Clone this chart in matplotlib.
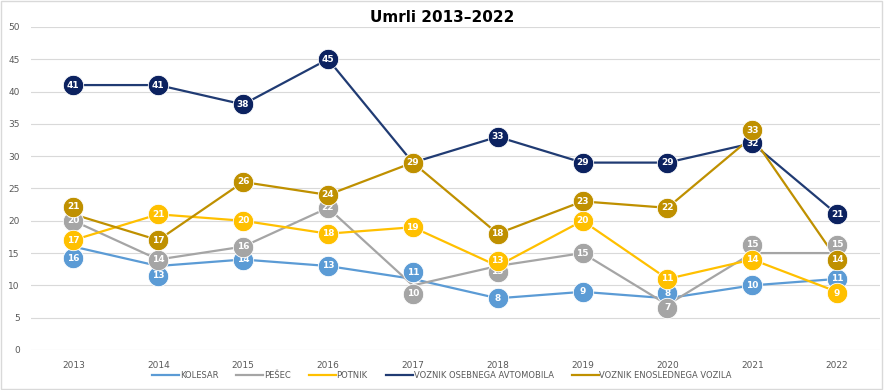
import matplotlib.pyplot as plt
from matplotlib.patches import Rectangle

years = ["2013", "2014", "2015", "2016", "2017", "2018", "2019", "2020", "2021", "2022"]

kolesar = [16, 13, 14, 13, 11, 8, 9, 8, 10, 11]
pesec = [20, 14, 16, 22, 10, 13, 15, 7, 15, 15]
potnik = [17, 21, 20, 18, 19, 13, 20, 11, 14, 9]
voznik_avto = [41, 41, 38, 45, 29, 33, 29, 29, 32, 21]
voznik_enosled = [21, 17, 26, 24, 29, 18, 23, 22, 33, 14]

series = [
    ("KOLESAR", kolesar, "#5B9BD5", "#5B9BD5"),
    ("PEŠEC", pesec, "#A5A5A5", "#A5A5A5"),
    ("POTNIK", potnik, "#FFC000", "#FFC000"),
    ("VOZNIK OSEBNEGA AVTOMOBILA", voznik_avto, "#203B73", "#0C2260"),
    ("VOZNIK ENOSLEDNEGA VOZILA", voznik_enosled, "#BF9000", "#BF9000"),
]

# label bubble shifts (data units) so overlapping labels stay readable
label_shift = {
    "KOLESAR": [-1.8, -1.5, 0, 0, 1.0, 0, 0, 0.8, 0, 0],
    "PEŠEC": [0, 0, 0, 0, -1.3, -0.9, 0, -0.5, 1.3, 1.3],
    "POTNIK": [0, 0, 0, 0, 0, 0.8, 0, 0, 0, -0.2],
    "VOZNIK OSEBNEGA AVTOMOBILA": [0] * 10,
    "VOZNIK ENOSLEDNEGA VOZILA": [1.2, 0, 0, 0, 0, 0, 0, 0, 1.0, 0],
}

fig = plt.figure(figsize=(8.84, 3.9), dpi=100)
ax = fig.add_axes([0.035, 0.1026, 0.96, 0.8284])
x = list(range(len(years)))

for name, vals, lc, mc in series:
    ax.plot(x, vals, color=lc, lw=1.6, label=name, zorder=2)

z = 3
for name, vals, lc, mc in series:
    ys = [v + s for v, s in zip(vals, label_shift[name])]
    ax.scatter(x, ys, s=215, color=mc, edgecolors="white", linewidths=0.6, zorder=z)
    for xi, yi, v in zip(x, ys, vals):
        ax.text(xi, yi, str(v), color="white", fontsize=6.5, fontweight="bold",
                ha="center", va="center", zorder=z + 0.5)
    z += 1

ax.set_xlim(-0.5, len(years) - 0.5)
ax.set_ylim(0, 50)
ax.set_yticks(range(0, 51, 5))
ax.set_xticks(x)
ax.set_xticklabels(years)
ax.tick_params(length=0, labelsize=6.5, colors="#595959", pad=8)
ax.grid(axis="y", color="#D9D9D9", lw=0.8)
ax.set_axisbelow(True)
for sp in ax.spines.values():
    sp.set_visible(False)

fig.suptitle("Umrli 2013–2022", x=0.5, y=0.975, fontsize=11, fontweight="bold")
leg = fig.legend(loc="center", bbox_to_anchor=(0.5, 0.037), ncol=5, frameon=False,
                 fontsize=6, handlelength=3.2, handletextpad=0.1, columnspacing=2.2)
for t in leg.get_texts():
    t.set_color("#595959")

fig.patches.append(Rectangle((0.001, 0.002), 0.997, 0.995, transform=fig.transFigure,
                             fill=False, edgecolor="#D9D9D9", lw=1))

plt.savefig("out.png", dpi=100)
